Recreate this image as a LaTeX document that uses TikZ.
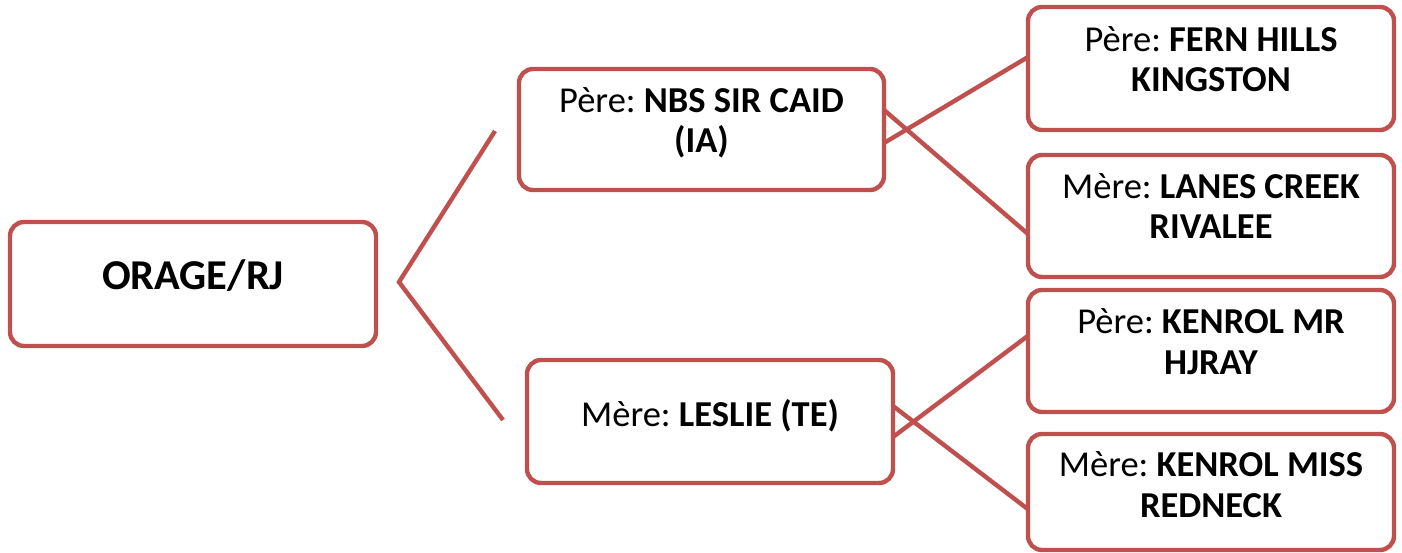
\documentclass[tikz,border=0pt]{standalone}
\usepackage{fontspec}
\setmainfont{Carlito}
\frenchspacing
\definecolor{accent}{HTML}{C0504D}
\begin{document}
\begin{tikzpicture}[x=1pt,y=-1pt,
  box/.style={draw=accent, line width=4.4pt, rounded corners=14pt, fill=white, inner sep=0pt},
  lbl/.style={anchor=base, align=center, font=\fontsize{36.5}{40.5}\selectfont, inner sep=0pt},
  link/.style={draw=accent, line width=4.4pt}]
\useasboundingbox (0,0) rectangle (1402,553);
% connector end points
\coordinate (apex) at (399,282);
\coordinate (rU) at (495,131);
\coordinate (rL) at (503,420);
\coordinate (n1) at (884,143);
\coordinate (n2) at (884,110);
\coordinate (f1) at (1028,57);
\coordinate (l1) at (1028,234);
\coordinate (s1) at (893,437);
\coordinate (s2) at (893,406);
\coordinate (k1) at (1029,335);
\coordinate (k2) at (1029,510);
% connectors
\draw[link] (rU) -- (apex) -- (rL);
\draw[link] (n1) -- (f1);
\draw[link] (n2) -- (l1);
\draw[link] (s1) -- (k1);
\draw[link] (s2) -- (k2);
% boxes
\node[box, minimum width=366pt, minimum height=124pt] (root) at (193,284) {};
\node[box, minimum width=365pt, minimum height=121pt] (nbs) at (701.5,129.5) {};
\node[box, minimum width=366pt, minimum height=123pt] (leslie) at (710,421.5) {};
\node[box, minimum width=366pt, minimum height=123pt] (fern) at (1211,68.5) {};
\node[box, minimum width=366pt, minimum height=122pt] (lanes) at (1211,216) {};
\node[box, minimum width=366pt, minimum height=122pt] (kmr) at (1211,351) {};
\node[box, minimum width=366pt, minimum height=116pt] (kmiss) at (1211,492) {};
% texts (base anchor = baseline of the last line)
\node[lbl, font=\fontsize{42.5}{48}\selectfont\bfseries] (rootT) at (193,290) {ORAGE/RJ};
\node[lbl] (nbsT) at (701.5,153) {Père: \textbf{NBS SIR CAID}\\\textbf{(IA)}};
\node[lbl] (leslieT) at (710,426) {Mère: \textbf{LESLIE (TE)}};
\node[lbl] (fernT) at (1211,92) {Père: \textbf{FERN HILLS}\\\textbf{KINGSTON}};
\node[lbl] (lanesT) at (1211,239) {Mère: \textbf{LANES CREEK}\\\textbf{RIVALEE}};
\node[lbl] (kmrT) at (1211,374) {Père: \textbf{KENROL MR}\\\textbf{HJRAY}};
\node[lbl] (kmissT) at (1211,517) {Mère: \textbf{KENROL MISS}\\\textbf{REDNECK}};
\end{tikzpicture}
\end{document}
